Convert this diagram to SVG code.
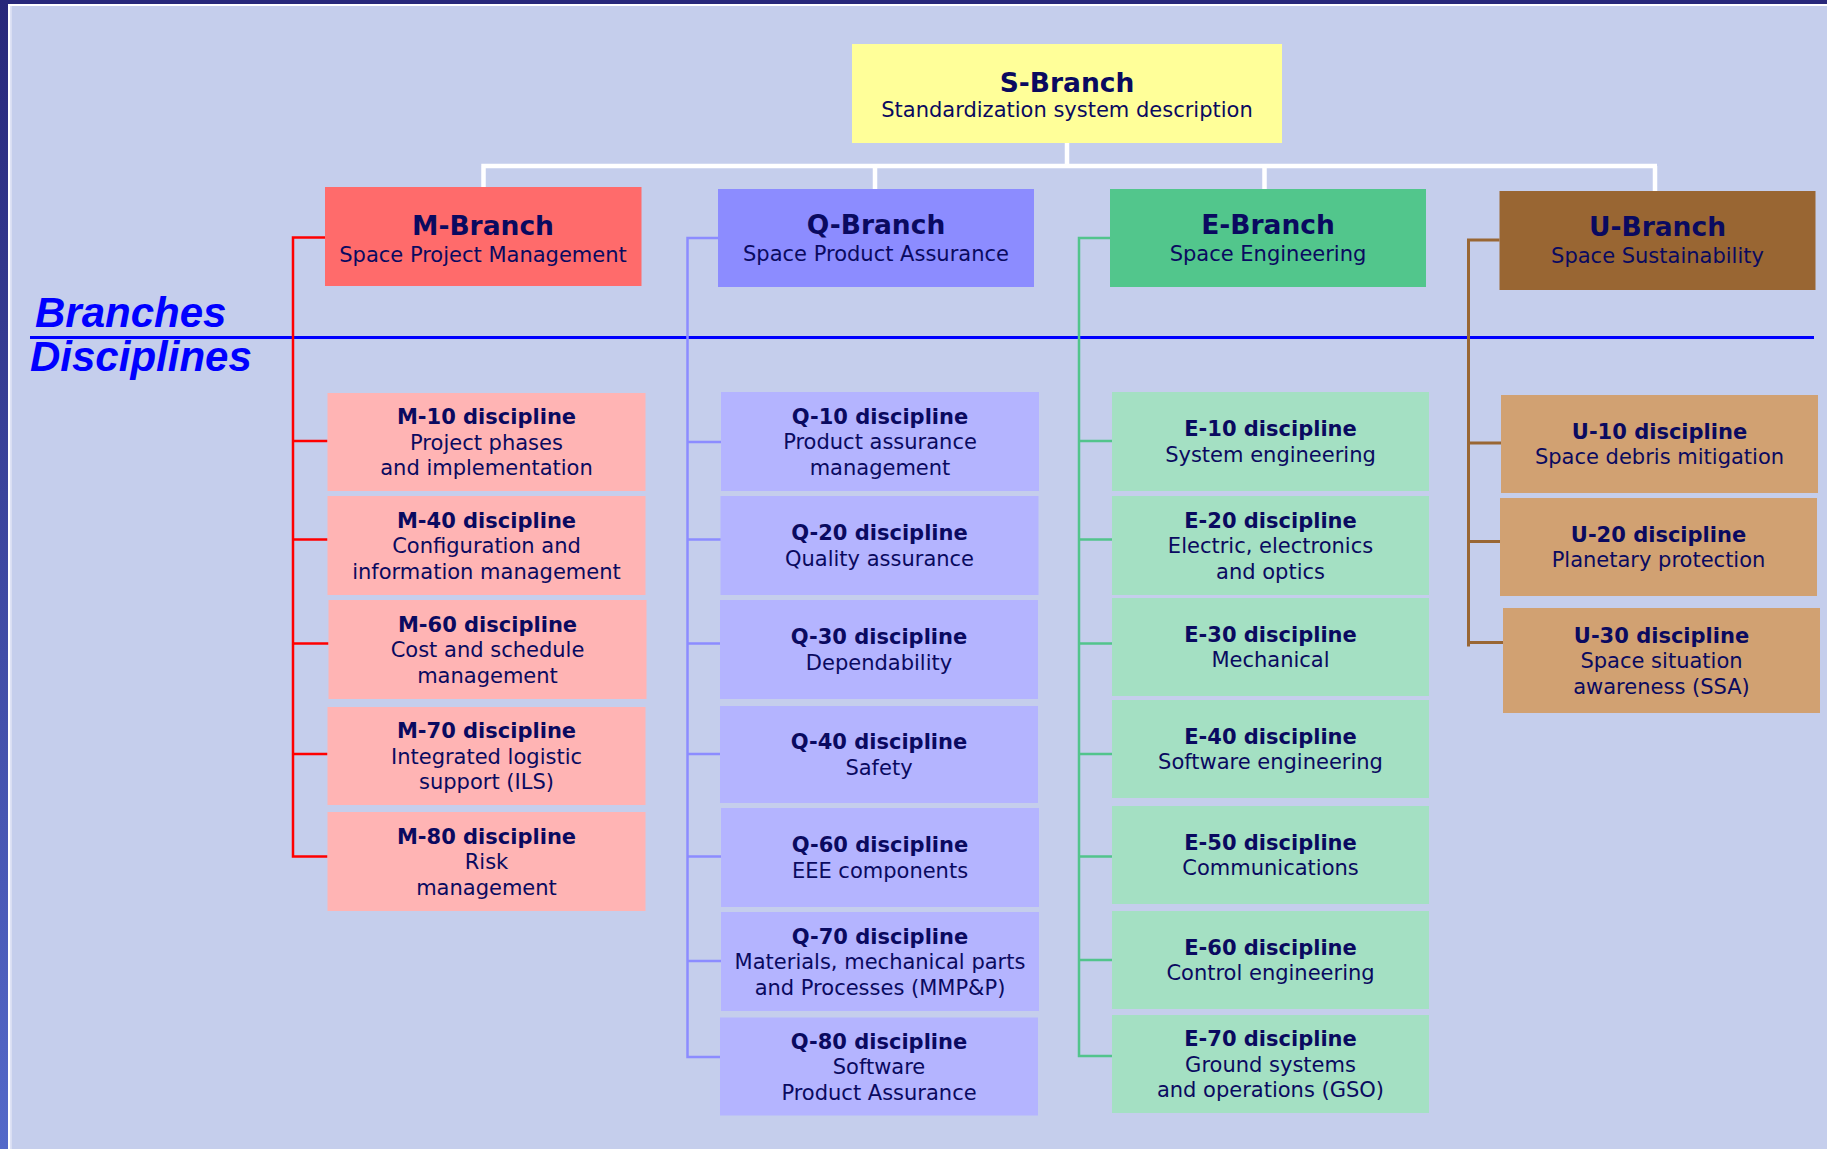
<svg xmlns="http://www.w3.org/2000/svg" width="1827" height="1149" viewBox="0 0 1827 1149">
<defs>
<linearGradient id="lb" x1="0" y1="0" x2="0" y2="1">
<stop offset="0" stop-color="#28287A"/>
<stop offset="1" stop-color="#5469C9"/>
</linearGradient>
<style>
text{font-family:"DejaVu Sans",Verdana,sans-serif;fill:#0A0A60;text-anchor:middle;}
.t{font-weight:bold;font-size:21px;}
.b{font-size:21px;}
.bt{font-weight:bold;font-size:26.5px;}
.bs{font-size:21px;}
.lab{font-family:"Liberation Sans",Arial,sans-serif;font-weight:bold;font-style:italic;font-size:42px;fill:#0000FF;text-anchor:start;}
.m{fill:#FFB4B4;} .q{fill:#B4B4FF;} .e{fill:#A4E0C3;} .u{fill:#D1A172;}
.conn path{fill:none;stroke-width:2.5;}
</style>
</defs>
<rect width="1827" height="1149" fill="#C5CEEC"/>
<rect x="0" y="0" width="1827" height="4" fill="#28287A"/>
<rect x="0" y="0" width="8" height="1149" fill="url(#lb)"/>
<rect x="8" y="4" width="1819" height="2" fill="#FFFFFF"/>
<rect x="8" y="4" width="2.5" height="1145" fill="#FFFFFF"/>
<rect x="10.5" y="6" width="1.5" height="1143" fill="#D9DEF3"/>

<line x1="30" y1="337.5" x2="1814" y2="337.5" stroke="#0000FF" stroke-width="3"/>
<text class="lab" x="35" y="327">Branches</text>
<text class="lab" x="30" y="371">Disciplines</text>

<g id="connectors" class="conn">
<path d="M1067 143V166M481.3 166H1657M483.5 166V187M875 166V189M1264.5 166V189M1655 166V191" stroke="#FFFFFF" style="stroke-width:4.5"/>
<path d="M325 237.5H293V856.5H327.5M293 441H327.5M293 539.5H327.5M293 643.5H328.5M293 754H327.5" stroke="#FF0000"/>
<path d="M718 238H687.5V1057H720M687.5 442H721M687.5 539.5H721M687.5 643.5H720M687.5 754H720M687.5 856.5H721M687.5 961H721" stroke="#8C8CFF"/>
<path d="M1110 238H1079V1056H1112M1079 441H1112M1079 539.5H1112M1079 643.5H1112M1079 754H1112M1079 856.5H1112M1079 960H1112" stroke="#52C48C"/>
<path d="M1499.5 240H1468.5V646.5M1468.5 443H1501M1468.5 541.5H1500M1468.5 642.5H1503" stroke="#996633" style="stroke-width:3"/>
</g>

<g id="S-Branch"><rect x="852" y="44" width="430" height="99" fill="#FFFF99"/>
<text class="bt" x="1067" y="91.5">S-Branch</text><text class="bs" x="1067" y="117">Standardization system description</text></g>
<g id="M-Branch"><rect x="325" y="187" width="316.5" height="99" fill="#FF6B6B"/>
<text class="bt" x="483" y="235">M-Branch</text><text class="bs" x="483" y="262">Space Project Management</text></g>
<g id="Q-Branch"><rect x="718" y="189" width="316" height="98" fill="#8C8CFF"/>
<text class="bt" x="876" y="233.5">Q-Branch</text><text class="bs" x="876" y="261">Space Product Assurance</text></g>
<g id="E-Branch"><rect x="1110" y="189" width="316" height="98" fill="#52C68C"/>
<text class="bt" x="1268" y="233.5">E-Branch</text><text class="bs" x="1268" y="261">Space Engineering</text></g>
<g id="U-Branch"><rect x="1499.5" y="191" width="316" height="99" fill="#996633"/>
<text class="bt" x="1657.5" y="235.5">U-Branch</text><text class="bs" x="1657.5" y="263">Space Sustainability</text></g>

<g id="M-10"><rect class="m" x="327.5" y="393" width="318" height="98"/>
<text class="t" x="486.5" y="424">M-10 discipline</text><text class="b" x="486.5" y="449.6">Project phases</text><text class="b" x="486.5" y="475.2">and implementation</text></g>
<g id="M-40"><rect class="m" x="327.5" y="496" width="318" height="99"/>
<text class="t" x="486.5" y="527.5">M-40 discipline</text><text class="b" x="486.5" y="553.1">Configuration and</text><text class="b" x="486.5" y="578.7">information management</text></g>
<g id="M-60"><rect class="m" x="328.5" y="600" width="318" height="99"/>
<text class="t" x="487.5" y="631.5">M-60 discipline</text><text class="b" x="487.5" y="657.1">Cost and schedule</text><text class="b" x="487.5" y="682.7">management</text></g>
<g id="M-70"><rect class="m" x="327.5" y="707" width="318" height="98"/>
<text class="t" x="486.5" y="738">M-70 discipline</text><text class="b" x="486.5" y="763.6">Integrated logistic</text><text class="b" x="486.5" y="789.2">support (ILS)</text></g>
<g id="M-80"><rect class="m" x="327.5" y="812" width="318" height="99"/>
<text class="t" x="486.5" y="843.5">M-80 discipline</text><text class="b" x="486.5" y="869.1">Risk</text><text class="b" x="486.5" y="894.7">management</text></g>

<g id="Q-10"><rect class="q" x="721" y="392" width="318" height="99"/>
<text class="t" x="880" y="423.5">Q-10 discipline</text><text class="b" x="880" y="449.1">Product assurance</text><text class="b" x="880" y="474.7">management</text></g>
<g id="Q-20"><rect class="q" x="720.5" y="496" width="318" height="99"/>
<text class="t" x="879.5" y="540.3">Q-20 discipline</text><text class="b" x="879.5" y="565.9">Quality assurance</text></g>
<g id="Q-30"><rect class="q" x="720" y="600" width="318" height="99"/>
<text class="t" x="879" y="644.3">Q-30 discipline</text><text class="b" x="879" y="669.9">Dependability</text></g>
<g id="Q-40"><rect class="q" x="720" y="706" width="318" height="97"/>
<text class="t" x="879" y="749.3">Q-40 discipline</text><text class="b" x="879" y="774.9">Safety</text></g>
<g id="Q-60"><rect class="q" x="721" y="808" width="318" height="99"/>
<text class="t" x="880" y="852.3">Q-60 discipline</text><text class="b" x="880" y="877.9">EEE components</text></g>
<g id="Q-70"><rect class="q" x="721" y="912" width="318" height="99"/>
<text class="t" x="880" y="943.5">Q-70 discipline</text><text class="b" x="880" y="969.1">Materials, mechanical parts</text><text class="b" x="880" y="994.7">and Processes (MMP&amp;P)</text></g>
<g id="Q-80"><rect class="q" x="720" y="1017.5" width="318" height="98"/>
<text class="t" x="879" y="1048.5">Q-80 discipline</text><text class="b" x="879" y="1074.1">Software</text><text class="b" x="879" y="1099.7">Product Assurance</text></g>

<g id="E-10"><rect class="e" x="1112" y="392" width="317" height="99"/>
<text class="t" x="1270.5" y="436.3">E-10 discipline</text><text class="b" x="1270.5" y="461.9">System engineering</text></g>
<g id="E-20"><rect class="e" x="1112" y="496" width="317" height="99"/>
<text class="t" x="1270.5" y="527.5">E-20 discipline</text><text class="b" x="1270.5" y="553.1">Electric, electronics</text><text class="b" x="1270.5" y="578.7">and optics</text></g>
<g id="E-30"><rect class="e" x="1112" y="598" width="317" height="98"/>
<text class="t" x="1270.5" y="641.8">E-30 discipline</text><text class="b" x="1270.5" y="667.4">Mechanical</text></g>
<g id="E-40"><rect class="e" x="1112" y="700" width="317" height="98"/>
<text class="t" x="1270.5" y="743.8">E-40 discipline</text><text class="b" x="1270.5" y="769.4">Software engineering</text></g>
<g id="E-50"><rect class="e" x="1112" y="806" width="317" height="98"/>
<text class="t" x="1270.5" y="849.8">E-50 discipline</text><text class="b" x="1270.5" y="875.4">Communications</text></g>
<g id="E-60"><rect class="e" x="1112" y="911" width="317" height="98"/>
<text class="t" x="1270.5" y="954.8">E-60 discipline</text><text class="b" x="1270.5" y="980.4">Control engineering</text></g>
<g id="E-70"><rect class="e" x="1112" y="1015" width="317" height="98"/>
<text class="t" x="1270.5" y="1046">E-70 discipline</text><text class="b" x="1270.5" y="1071.6">Ground systems</text><text class="b" x="1270.5" y="1097.2">and operations (GSO)</text></g>

<g id="U-10"><rect class="u" x="1501" y="395" width="317" height="98"/>
<text class="t" x="1659.5" y="438.8">U-10 discipline</text><text class="b" x="1659.5" y="464.4">Space debris mitigation</text></g>
<g id="U-20"><rect class="u" x="1500" y="498" width="317" height="98"/>
<text class="t" x="1658.5" y="541.8">U-20 discipline</text><text class="b" x="1658.5" y="567.4">Planetary protection</text></g>
<g id="U-30"><rect class="u" x="1503" y="608" width="317" height="105"/>
<text class="t" x="1661.5" y="642.5">U-30 discipline</text><text class="b" x="1661.5" y="668.1">Space situation</text><text class="b" x="1661.5" y="693.7">awareness (SSA)</text></g>
</svg>
